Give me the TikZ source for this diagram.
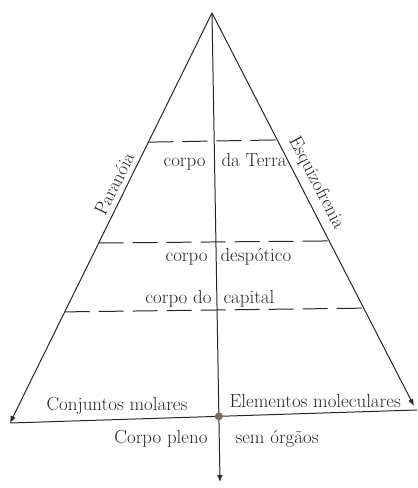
\documentclass[tikz,border=0pt]{standalone}
\usepackage{fontspec}
\usepackage{tikz}
\usetikzlibrary{arrows.meta}
\usetikzlibrary{calc}
\definecolor{dotbrown}{RGB}{128,108,88}

\begin{document}
\begin{tikzpicture}[
        x=1bp, y=1bp,
        >={Latex[length=7pt,width=5.5pt]}, line width=1pt, black!85,
        lbl/.style={font=\fontsize{19}{22}\selectfont, inner sep=0pt},
        cut/.style={dash pattern=on 25bp off 9bp},
    ]
    \useasboundingbox (0, 0) rectangle (417, 488);

    \coordinate (apex) at (212, 475);
    \coordinate (lb) at (10, 65);
    \coordinate (rb) at (414, 82);
    \coordinate (be) at (417, 78);
    \coordinate (bot) at (220, 6);

    % sides and axis
    \draw[->] (apex) -- (lb);
    \draw[->] (apex) -- node[lbl, sloped, above=6bp, pos=0.45] (esq) {Esquizofrenia} (rb);
    \path (lb) -- node[lbl, sloped, above=5bp, pos=0.57] (par) {Paranóia} (apex);
    \draw (lb) -- (be);
    \draw[->] (apex) -- (bot);

    % levels: left and right fraction
    \foreach \l/\r in {0.315/0.323, 0.561/0.580, 0.729/0.751}
        \draw[cut] ($(apex)!\l!(lb)$) -- ($(apex)!\r!(rb)$);

    \node[lbl, anchor=base east] (corpoA) at (206, 321) {corpo};
    \node[lbl, anchor=base west] (terra) at (221, 321) {da Terra};
    \node[lbl, anchor=base east] (corpoB) at (208, 226) {corpo};
    \node[lbl, anchor=base west] (desp) at (220, 226) {despótico};
    \node[lbl, anchor=base east] (corpoC) at (212, 184) {corpo do};
    \node[lbl, anchor=base west] (capital) at (223, 184) {capital};
    \node[lbl, anchor=base] (molar) at (117, 77) {Conjuntos molares};
    \node[lbl, anchor=base west] (molec) at (229, 80) {Elementos moleculares};
    \node[lbl, anchor=base east] (pleno) at (208, 44) {Corpo pleno};
    \node[lbl, anchor=base west] (orgaos) at (235, 44) {sem órgãos};

    \fill[dotbrown] (intersection of apex--bot and lb--be) circle (4);
\end{tikzpicture}
\end{document}
